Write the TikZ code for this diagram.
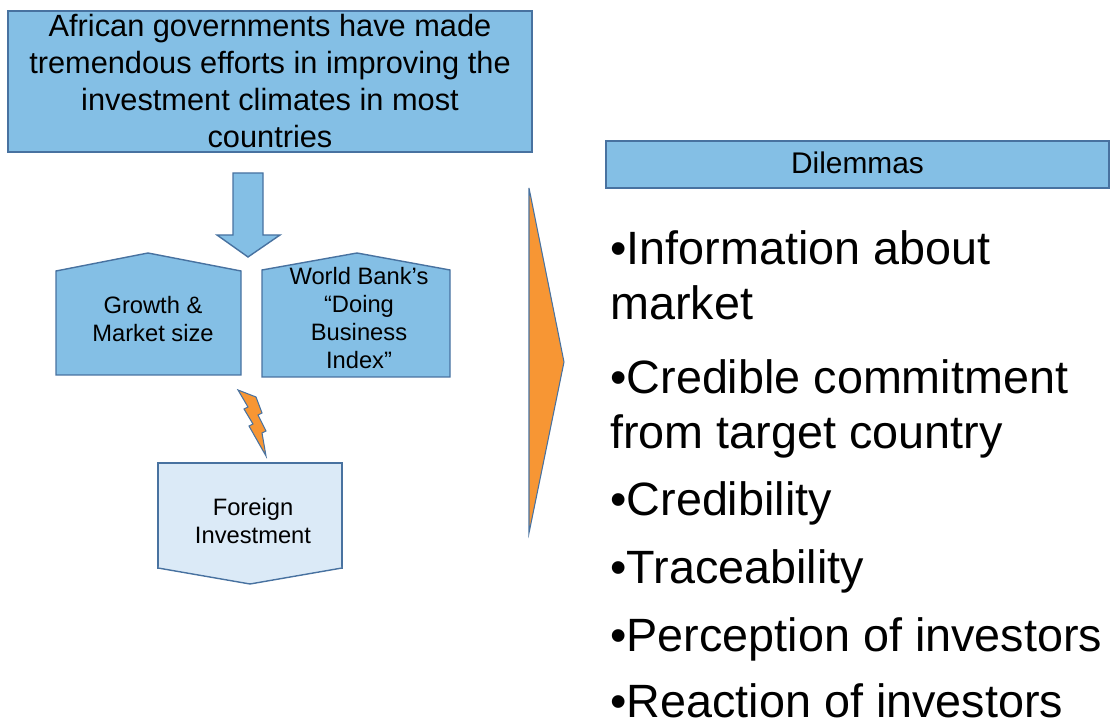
\documentclass[tikz,border=0pt]{standalone}
\usepackage{fontspec}
\setmainfont{Liberation Sans}
\definecolor{boxblue}{RGB}{132,191,229}
\definecolor{lineblue}{RGB}{72,114,160}
\definecolor{paleblue}{RGB}{219,234,247}
\definecolor{boltorange}{RGB}{247,150,52}
\tikzset{
  shapebox/.style={draw=lineblue, line width=0.8pt, fill=boxblue},
  bigtext/.style={font=\fontsize{17.5}{21}\selectfont, align=center},
  smalltext/.style={font=\fontsize{13.5}{15.9}\selectfont, align=center},
  itemtext/.style={font=\fontsize{26.6}{31.7}\selectfont, align=left, anchor=base west, inner sep=0pt}
}
\begin{document}
\begin{tikzpicture}[x=0.02cm,y=-0.02cm]
    \useasboundingbox (0,0) rectangle (1113,722);

    % caja superior
    \draw[shapebox] (8,11) rectangle (532,152);
    \node[bigtext] (gov) at (270,81) {African governments have made\\tremendous efforts in improving the\\investment climates in most\\countries};

    % flecha hacia abajo
    \draw[shapebox] (233,173) -- (263,173) -- (263,235) -- (280,235) -- (248,257)
      -- (217,235) -- (233,235) -- cycle;

    % pentagonos
    \draw[shapebox] (56,375) -- (56,271) -- (148,253) -- (241,271) -- (241,375) -- cycle;
    \node[smalltext] (growth) at (153,319) {Growth \&\\Market size};

    \draw[shapebox] (262,377) -- (262,270) -- (357,253) -- (450,270) -- (450,377) -- cycle;
    \node[smalltext] (wbank) at (359,318) {World Bank's\\``Doing\\Business\\Index''};

    % rayo
    \draw[draw=lineblue, fill=boltorange, line width=0.6pt] (238,390) -- (256,397) -- (262,413)
      -- (258,415) -- (266,431) -- (262,433) -- (266,456) -- (249,426) -- (253,424)
      -- (244,409) -- (248,407) -- cycle;

    % inversion extranjera
    \draw[shapebox, fill=paleblue] (158,463) rectangle (342,568);
    \draw[draw=lineblue, fill=paleblue, line width=0.8pt] (158,567) -- (158,568) -- (250,584) -- (342,568) -- (342,567);
    \node[smalltext] (fdi) at (253,521) {Foreign\\Investment};

    % triangulo naranja
    \draw[draw=lineblue, fill=boltorange, line width=0.6pt] (529,188) -- (564,362) -- (529,533) -- cycle;

    % dilemas
    \draw[shapebox] (606,141) rectangle (1109,188);
    \node[font=\fontsize{17}{20}\selectfont] (dil) at (857.5,163) {Dilemmas};

    % base = ultima linea del nodo
    \node[itemtext] (info) at (610,320) {•Information about\\market};
    \node[itemtext] (commit) at (610,449) {•Credible commitment\\from target country};
    \node[itemtext] (cred) at (610,516) {•Credibility};
    \node[itemtext] (trace) at (610,584) {•Traceability};
    \node[itemtext] (percep) at (610,652) {•Perception of investors};
    \node[itemtext] (react) at (610,718) {•Reaction of investors};
  \end{tikzpicture}
\end{document}
